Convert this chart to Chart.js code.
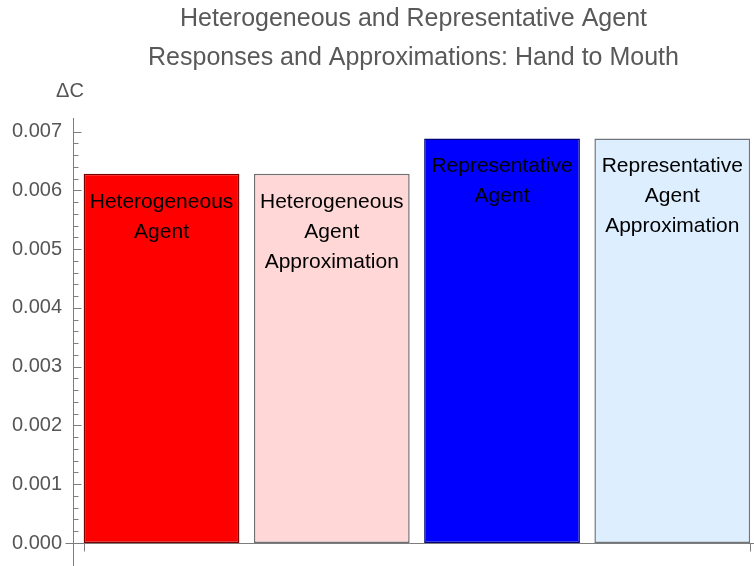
<!DOCTYPE html>
<html>
<head>
<meta charset="utf-8">
<script src="https://cdn.jsdelivr.net/npm/chart.js@4"></script>
<style>
  body { margin: 0; background: #fff; }
  #wrap { width: 754px; height: 566px; position: relative; }
</style>
</head>
<body>
<div id="wrap"><canvas id="chartHTM"></canvas></div>
<script>
// data
const categories = [
    "Heterogeneous\nAgent",
    "Heterogeneous\nAgent\nApproximation",
    "Representative\nAgent",
    "Representative\nAgent\nApproximation"
];
const deltaC = [0.00628, 0.00628, 0.00688, 0.00688];
const titleLines = [
    "Heterogeneous and Representative Agent",
    "Responses and Approximations: Hand to Mouth"
];
const yTicks = [0.000, 0.001, 0.002, 0.003, 0.004, 0.005, 0.006, 0.007];

const fillColors = ["#ff0000", "#ffd7d7", "#0000ff", "#ddeeff"];
const edgeColors = ["#7a0000", "#707070", "#00007a", "#6f757b"];
const FONT = "'Liberation Sans', Arial, Helvetica, sans-serif";
const AXIS = "#7d7d7d";
const MINOR = 0.0002;

// tick marks, axis lines, the ΔC label and the texts inside bars
const mathematicaAxes = {
    id: "mathematicaAxes",
    afterDatasetsDraw(chart) {
        const ctx = chart.ctx;
        const y = chart.scales.y;
        const area = chart.chartArea;
        const meta = chart.getDatasetMeta(0);

        ctx.save();
        // labels inside the bars
        ctx.fillStyle = "#000";
        ctx.font = "21px " + FONT;
        ctx.textAlign = "center";
        ctx.textBaseline = "middle";
        meta.data.forEach(function (bar, i) {
            categories[i].split("\n").forEach(function (line, k) {
                ctx.fillText(line, bar.x, bar.y + 28 + k * 30);
            });
        });

        // axis lines
        ctx.strokeStyle = AXIS;
        ctx.lineWidth = 1;
        const x0 = Math.round(area.left) + 0.5;
        const yb = Math.round(area.bottom) + 0.5;
        ctx.beginPath();
        ctx.moveTo(x0, area.top);
        ctx.lineTo(x0, chart.height);
        ctx.moveTo(x0 - 8, yb);
        ctx.lineTo(area.right, yb);
        ctx.stroke();

        // y ticks, major every 0.001 and minor every 0.0002
        ctx.beginPath();
        y.ticks.forEach(function (t) {
            const k = Math.round(t.value / MINOR);
            if (Math.abs(t.value - k * MINOR) > 1e-9) return;
            const py = Math.round(y.getPixelForValue(t.value)) + 0.5;
            const len = (k % 5 === 0) ? 8 : 5;
            ctx.moveTo(x0, py);
            ctx.lineTo(x0 + len, py);
        });
        ctx.stroke();

        // small ticks at the outer edges of the bar group
        const first = meta.data[0], last = meta.data[meta.data.length - 1];
        ctx.beginPath();
        [first.x - first.width / 2, last.x + last.width / 2].forEach(function (px) {
            px = Math.round(px) + 0.5;
            ctx.moveTo(px, yb);
            ctx.lineTo(px, yb + 8);
        });
        ctx.stroke();

        // axis label
        ctx.fillStyle = "#555";
        ctx.font = "20px " + FONT;
        ctx.fillText("\u0394C", area.left - 3, 91);
        ctx.restore();
    }
};

const ctx = document.getElementById("chartHTM").getContext("2d");
new Chart(ctx, {
    type: "bar",
    data: {
        datasets: [{
            data: deltaC.map((v, i) => ({ x: i + 1, y: v })),
            backgroundColor: fillColors,
            borderColor: edgeColors,
            borderWidth: 1.5,
            borderSkipped: false,
            barPercentage: 0.915,
            categoryPercentage: 1
        }]
    },
    options: {
        responsive: true,
        maintainAspectRatio: false,
        animation: false,
        layout: { padding: { left: 0, right: 0, top: 0, bottom: 13 } },
        plugins: {
            legend: { display: false },
            tooltip: { enabled: false },
            title: {
                display: true,
                fullSize: false,
                text: titleLines,
                color: "#595959",
                font: { family: FONT, size: 25, weight: "normal", lineHeight: 1.56 },
                padding: { top: 0, bottom: 40 }
            }
        },
        scales: {
            x: {
                type: "linear",
                display: false,
                offset: false,
                min: 0.48,
                max: 4.48,
                ticks: { stepSize: 1, includeBounds: false }
            },
            y: {
                min: 0,
                max: 0.00723,
                afterFit: function (s) { s.width = 73; },
                grid: { display: false, drawTicks: false },
                border: { display: false },
                ticks: {
                    stepSize: MINOR,
                    autoSkip: false,
                    padding: 11,
                    color: "#555",
                    font: { family: FONT, size: 20 },
                    callback: function (v) {
                        const hit = yTicks.find(t => Math.abs(t - v) < 1e-9);
                        return hit === undefined ? "" : hit.toFixed(3);
                    }
                }
            }
        }
    },
    plugins: [mathematicaAxes]
});
</script>
</body>
</html>
